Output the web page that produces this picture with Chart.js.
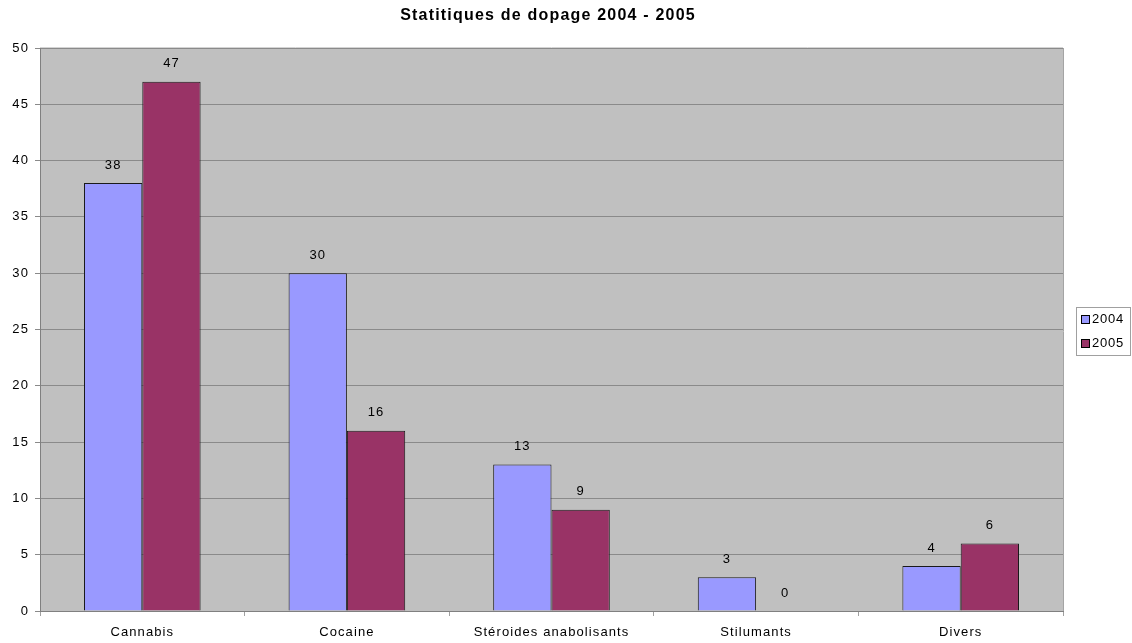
<!DOCTYPE html>
<html lang="fr">
<head>
    <meta charset="UTF-8">
    <title>Statitiques de dopage 2004 - 2005</title>
    <script src="https://cdn.jsdelivr.net/npm/chart.js"></script>
    <style>
        html, body { margin: 0; padding: 0; background: #fff; }
        #wrap { width: 1132px; height: 643px; }
    </style>
</head>
<body>
    <div id="wrap"><canvas id="dopageChart"></canvas></div>
    <script>
        const categories = ['Cannabis', 'Cocaine', 'Stéroides anabolisants', 'Stilumants', 'Divers'];
        const seriesNames = ['2004', '2005'];
        const values2004 = [38, 30, 13, 3, 4];
        const values2005 = [47, 16, 9, 0, 6];
        const yTicks = [0, 5, 10, 15, 20, 25, 30, 35, 40, 45, 50];

        const FONT = '"Liberation Sans", Arial, sans-serif';
        const colors = ['#9999ff', '#993366'];

        // slightly wide lettering everywhere
        const spacing = {
            id: 'spacing',
            beforeLayout(chart) { chart.ctx.letterSpacing = '1.1px'; },
            beforeDraw(chart) { chart.ctx.letterSpacing = '1.1px'; }
        };

        // grey plot background + title
        const plotBg = {
            id: 'plotBg',
            beforeDraw(chart) {
                const { ctx, chartArea: a } = chart;
                ctx.save();
                ctx.fillStyle = '#c0c0c0';
                ctx.fillRect(a.left, a.top, a.right - a.left, a.bottom - a.top);
                ctx.strokeStyle = '#a4a4a4';
                ctx.lineWidth = 1;
                ctx.beginPath();
                ctx.moveTo(a.right + 0.5, a.top);
                ctx.lineTo(a.right + 0.5, a.bottom + 4);
                ctx.stroke();
                ctx.strokeStyle = '#d4d4d4';
                ctx.beginPath();
                ctx.moveTo(a.left, a.top - 0.5);
                ctx.lineTo(a.right, a.top - 0.5);
                ctx.stroke();

                ctx.letterSpacing = '1.2px';
                ctx.font = 'bold 16px ' + FONT;
                ctx.fillStyle = '#000';
                ctx.textAlign = 'center';
                ctx.textBaseline = 'middle';
                ctx.fillText('Statitiques de dopage 2004 - 2005', 548, 16);
                ctx.restore();
            }
        };

        // value above each bar
        const barValues = {
            id: 'barValues',
            afterDatasetsDraw(chart) {
                const { ctx } = chart;
                ctx.save();
                ctx.font = '13px ' + FONT;
                ctx.fillStyle = '#000';
                ctx.textAlign = 'center';
                ctx.textBaseline = 'middle';
                chart.data.datasets.forEach((ds, i) => {
                    chart.getDatasetMeta(i).data.forEach((bar, j) => {
                        ctx.fillText(String(ds.data[j]), bar.x, bar.y - 18);
                    });
                });
                ctx.restore();
            }
        };

        // boxed legend on the right
        const sideLegend = {
            id: 'sideLegend',
            afterDraw(chart) {
                const { ctx } = chart;
                ctx.save();
                ctx.strokeStyle = '#a0a0a0';
                ctx.lineWidth = 1;
                ctx.strokeRect(1076.5, 307.5, 54, 48);
                ctx.letterSpacing = '0.8px';
                ctx.font = '13px ' + FONT;
                ctx.textAlign = 'left';
                ctx.textBaseline = 'middle';
                seriesNames.forEach((name, i) => {
                    const y = 319 + i * 24;
                    ctx.fillStyle = colors[i];
                    ctx.fillRect(1081, y - 4, 9, 9);
                    ctx.strokeStyle = '#000';
                    ctx.strokeRect(1081.5, y - 3.5, 8, 8);
                    ctx.fillStyle = '#000';
                    ctx.fillText(name, 1092, y);
                });
                ctx.restore();
            }
        };

        new Chart(document.getElementById('dopageChart'), {
            type: 'bar',
            data: {
                labels: categories,
                datasets: [values2004, values2005].map((vals, i) => ({
                    label: seriesNames[i],
                    data: vals,
                    backgroundColor: colors[i],
                    borderColor: '#1a1a1a',
                    borderWidth: 1,
                    categoryPercentage: 0.57,
                    barPercentage: 1
                }))
            },
            options: {
                responsive: true,
                maintainAspectRatio: false,
                animation: false,
                layout: { padding: { top: 48, right: 69, left: 0, bottom: 0 } },
                plugins: {
                    title: { display: false },
                    legend: { display: false },
                    tooltip: { enabled: false }
                },
                scales: {
                    x: {
                        afterFit(scale) { scale.height = 32; },
                        grid: {
                            offset: true,
                            drawOnChartArea: false,
                            drawTicks: true,
                            tickLength: 5,
                            color: '#a0a0a0'
                        },
                        border: { color: '#808080' },
                        ticks: {
                            color: '#000',
                            font: { family: FONT, size: 13 },
                            maxRotation: 0,
                            padding: 9
                        }
                    },
                    y: {
                        min: 0,
                        max: 50,
                        afterFit(scale) { scale.width = 40; },
                        afterBuildTicks(scale) {
                            scale.ticks = yTicks.map(v => ({ value: v }));
                        },
                        grid: {
                            color: '#8a8a8a',
                            tickLength: 5
                        },
                        border: { color: '#808080' },
                        ticks: {
                            color: '#000',
                            font: { family: FONT, size: 13 },
                            padding: 6
                        }
                    }
                }
            },
            plugins: [spacing, plotBg, barValues, sideLegend]
        });
    </script>
</body>
</html>
